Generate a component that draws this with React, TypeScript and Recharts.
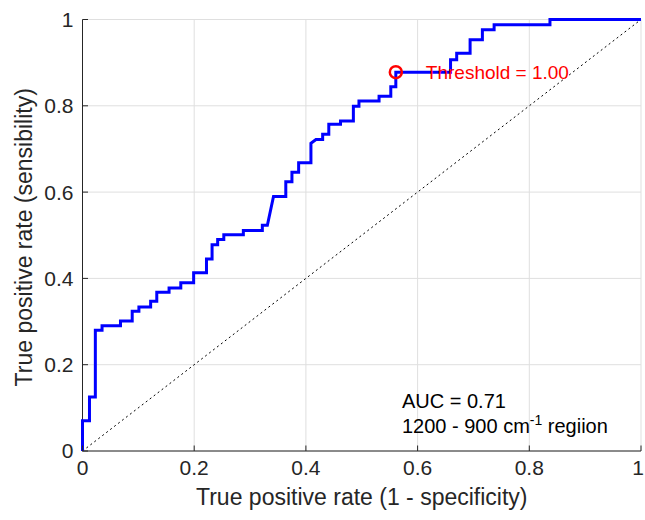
import React from 'react';
import {
  LineChart,
  Line,
  XAxis,
  YAxis,
  CartesianGrid,
  ReferenceLine,
  ReferenceDot,
} from 'recharts';

// ROC curve vertices (false positive rate, true positive rate)
const fpr = [
  0, 0, 0.0125, 0.0125, 0.023, 0.023, 0.035, 0.035, 0.068, 0.068, 0.089, 0.089,
  0.101, 0.101, 0.122, 0.122, 0.133, 0.133, 0.155, 0.155, 0.176, 0.176, 0.199,
  0.199, 0.222, 0.222, 0.232, 0.232, 0.242, 0.242, 0.253, 0.253, 0.288, 0.288,
  0.322, 0.322, 0.331, 0.342, 0.364, 0.364, 0.375, 0.375, 0.387, 0.387, 0.409,
  0.409, 0.418, 0.43, 0.43, 0.441, 0.441, 0.462, 0.462, 0.485, 0.485, 0.495,
  0.495, 0.531, 0.531, 0.552, 0.552, 0.561, 0.561, 0.659, 0.659, 0.67, 0.67,
  0.694, 0.694, 0.716, 0.716, 0.737, 0.737, 0.837, 0.837, 1,
];
const tpr = [
  0, 0.07, 0.07, 0.125, 0.125, 0.28, 0.28, 0.29, 0.29, 0.301, 0.301, 0.324,
  0.324, 0.334, 0.334, 0.347, 0.347, 0.368, 0.368, 0.378, 0.378, 0.39, 0.39,
  0.413, 0.413, 0.445, 0.445, 0.478, 0.478, 0.49, 0.49, 0.501, 0.501, 0.511,
  0.511, 0.523, 0.523, 0.59, 0.59, 0.624, 0.624, 0.646, 0.646, 0.668, 0.668,
  0.713, 0.722, 0.722, 0.734, 0.734, 0.757, 0.757, 0.765, 0.765, 0.799, 0.799,
  0.811, 0.811, 0.822, 0.822, 0.844, 0.844, 0.878, 0.878, 0.907, 0.907, 0.922,
  0.922, 0.953, 0.953, 0.976, 0.976, 0.988, 0.988, 1, 1,
];

const xTicks = [0, 0.2, 0.4, 0.6, 0.8, 1];
const yTicks = [0, 0.2, 0.4, 0.6, 0.8, 1];
const xTickLabels = ['0', '0.2', '0.4', '0.6', '0.8', '1'];
const yTickLabels = ['0', '0.2', '0.4', '0.6', '0.8', '1'];

const thresholdFpr = 0.561;
const thresholdTpr = 0.878;
const thresholdText = 'Threshold = 1.00';

const aucText = 'AUC = 0.71';
const regionMain = '1200 - 900 cm';
const regionSup = '-1';
const regionTail = ' regiion';
const aucAnchor = { x: 0.572, y: 0.117 };
const regionAnchor = { x: 0.572, y: 0.058 };

const xLabel = 'True positive rate (1 - specificity)';
const yLabel = 'True positive rate (sensibility)';

const rocData = fpr.map((x, i) => ({ fpr: x, tpr: tpr[i] }));

const FONT = '"Liberation Sans", Arial, Helvetica, sans-serif';
const AXIS = '#262626';
const TICK_FS = 21;
const LABEL_FS = 23;
const TL = 5.5;

const labelFor = (v: number, vals: number[], labels: string[]) => {
  const i = vals.findIndex((t) => Math.abs(t - v) < 1e-9);
  return i >= 0 ? labels[i] : String(v);
};

const BottomTick = (p: any) => {
  const isLast = Math.abs(p.payload.value - 1) < 1e-9;
  return (
    <g>
      <line x1={p.x} y1={p.y} x2={p.x} y2={p.y - TL} stroke={AXIS} strokeWidth={1} />
      <text
        x={isLast ? p.x + 3 : p.x}
        y={p.y + 9}
        dy="0.71em"
        textAnchor={isLast ? 'end' : 'middle'}
        fontSize={TICK_FS}
        fontFamily={FONT}
        fill={AXIS}
      >
        {labelFor(p.payload.value, xTicks, xTickLabels)}
      </text>
    </g>
  );
};
const TopTick = (p: any) => (
  <line x1={p.x} y1={p.y} x2={p.x} y2={p.y + TL} stroke={AXIS} strokeWidth={1} />
);
const LeftTick = (p: any) => (
  <g>
    <line x1={p.x} y1={p.y} x2={p.x + TL} y2={p.y} stroke={AXIS} strokeWidth={1} />
    <text x={p.x - 9} y={p.y} dy="0.355em" textAnchor="end" fontSize={TICK_FS} fontFamily={FONT} fill={AXIS}>
      {labelFor(p.payload.value, yTicks, yTickLabels)}
    </text>
  </g>
);
const RightTick = (p: any) => (
  <line x1={p.x} y1={p.y} x2={p.x - TL} y2={p.y} stroke={AXIS} strokeWidth={1} />
);

const XLabelContent = (p: any) => {
  const vb = p.viewBox || {};
  return (
    <text x={vb.x + vb.width / 2} y={vb.y + 54} textAnchor="middle" fontSize={LABEL_FS} fontFamily={FONT} fill={AXIS}>
      {xLabel}
    </text>
  );
};
const YLabelContent = (p: any) => {
  const vb = p.viewBox || {};
  const cx = vb.x + 32;
  const cy = vb.y + vb.height / 2 + 2;
  return (
    <text x={cx} y={cy} transform={`rotate(-90, ${cx}, ${cy})`} textAnchor="middle" fontSize={LABEL_FS} fontFamily={FONT} fill={AXIS}>
      {yLabel}
    </text>
  );
};

const AucShape = (p: any) => (
  <text x={p.cx} y={p.cy} dy="0.355em" fontSize={20} fontFamily={FONT} fill="#000">
    {aucText}
  </text>
);
const RegionShape = (p: any) => (
  <text x={p.cx} y={p.cy} dy="0.355em" fontSize={20} fontFamily={FONT} fill="#000">
    {regionMain}
    <tspan fontSize={14} dy={-8}>{regionSup}</tspan>
    <tspan fontSize={20} dy={8}>{regionTail}</tspan>
  </text>
);

export default function App() {
  return (
    <div style={{ position: 'absolute', left: 0, top: 0, background: '#fff' }}>
      <LineChart
        width={645}
        height={520}
        data={rocData}
        margin={{ top: 19.5, right: 4, bottom: 0, left: 0 }}
      >
        <CartesianGrid stroke="#dfdfdf" strokeWidth={1} />
        <XAxis
          xAxisId={0}
          dataKey="fpr"
          type="number"
          domain={[0, 1]}
          ticks={xTicks}
          height={69}
          tickSize={0}
          tickMargin={0}
          tickLine={false}
          axisLine={{ stroke: AXIS }}
          tick={BottomTick}
          interval={0}
          label={{ content: XLabelContent }}
        />
        <XAxis
          xAxisId="top"
          orientation="top"
          dataKey="fpr"
          type="number"
          domain={[0, 1]}
          ticks={xTicks}
          height={0}
          tickSize={0}
          tickMargin={0}
          tickLine={false}
          axisLine={{ stroke: AXIS }}
          tick={TopTick}
          interval={0}
        />
        <YAxis
          yAxisId={0}
          type="number"
          domain={[0, 1]}
          ticks={yTicks}
          width={82.5}
          tickSize={0}
          tickMargin={0}
          tickLine={false}
          axisLine={{ stroke: AXIS }}
          tick={LeftTick}
          interval={0}
          label={{ content: YLabelContent }}
        />
        <YAxis
          yAxisId="right"
          orientation="right"
          type="number"
          domain={[0, 1]}
          ticks={yTicks}
          width={0}
          tickSize={0}
          tickMargin={0}
          tickLine={false}
          axisLine={{ stroke: AXIS }}
          tick={RightTick}
          interval={0}
        />
        <ReferenceLine
          segment={[{ x: 0, y: 0 }, { x: 1, y: 1 }]}
          stroke="#000"
          strokeWidth={1}
          strokeDasharray="2 3"
          ifOverflow="visible"
        />
        <Line
          type="linear"
          dataKey="tpr"
          stroke="#0000ff"
          strokeWidth={3}
          dot={false}
          activeDot={false}
          isAnimationActive={false}
          zIndex={900}
        />
        <ReferenceDot
          x={thresholdFpr}
          y={thresholdTpr}
          r={6}
          fill="none"
          stroke="#ff0000"
          strokeWidth={2.5}
          zIndex={1000}
          label={{ value: thresholdText, position: 'right', offset: 24, fill: '#ff0000', fontSize: 19, fontFamily: FONT }}
        />
        <ReferenceDot x={aucAnchor.x} y={aucAnchor.y} r={1} shape={AucShape} />
        <ReferenceDot x={regionAnchor.x} y={regionAnchor.y} r={1} shape={RegionShape} />
      </LineChart>
    </div>
  );
}
